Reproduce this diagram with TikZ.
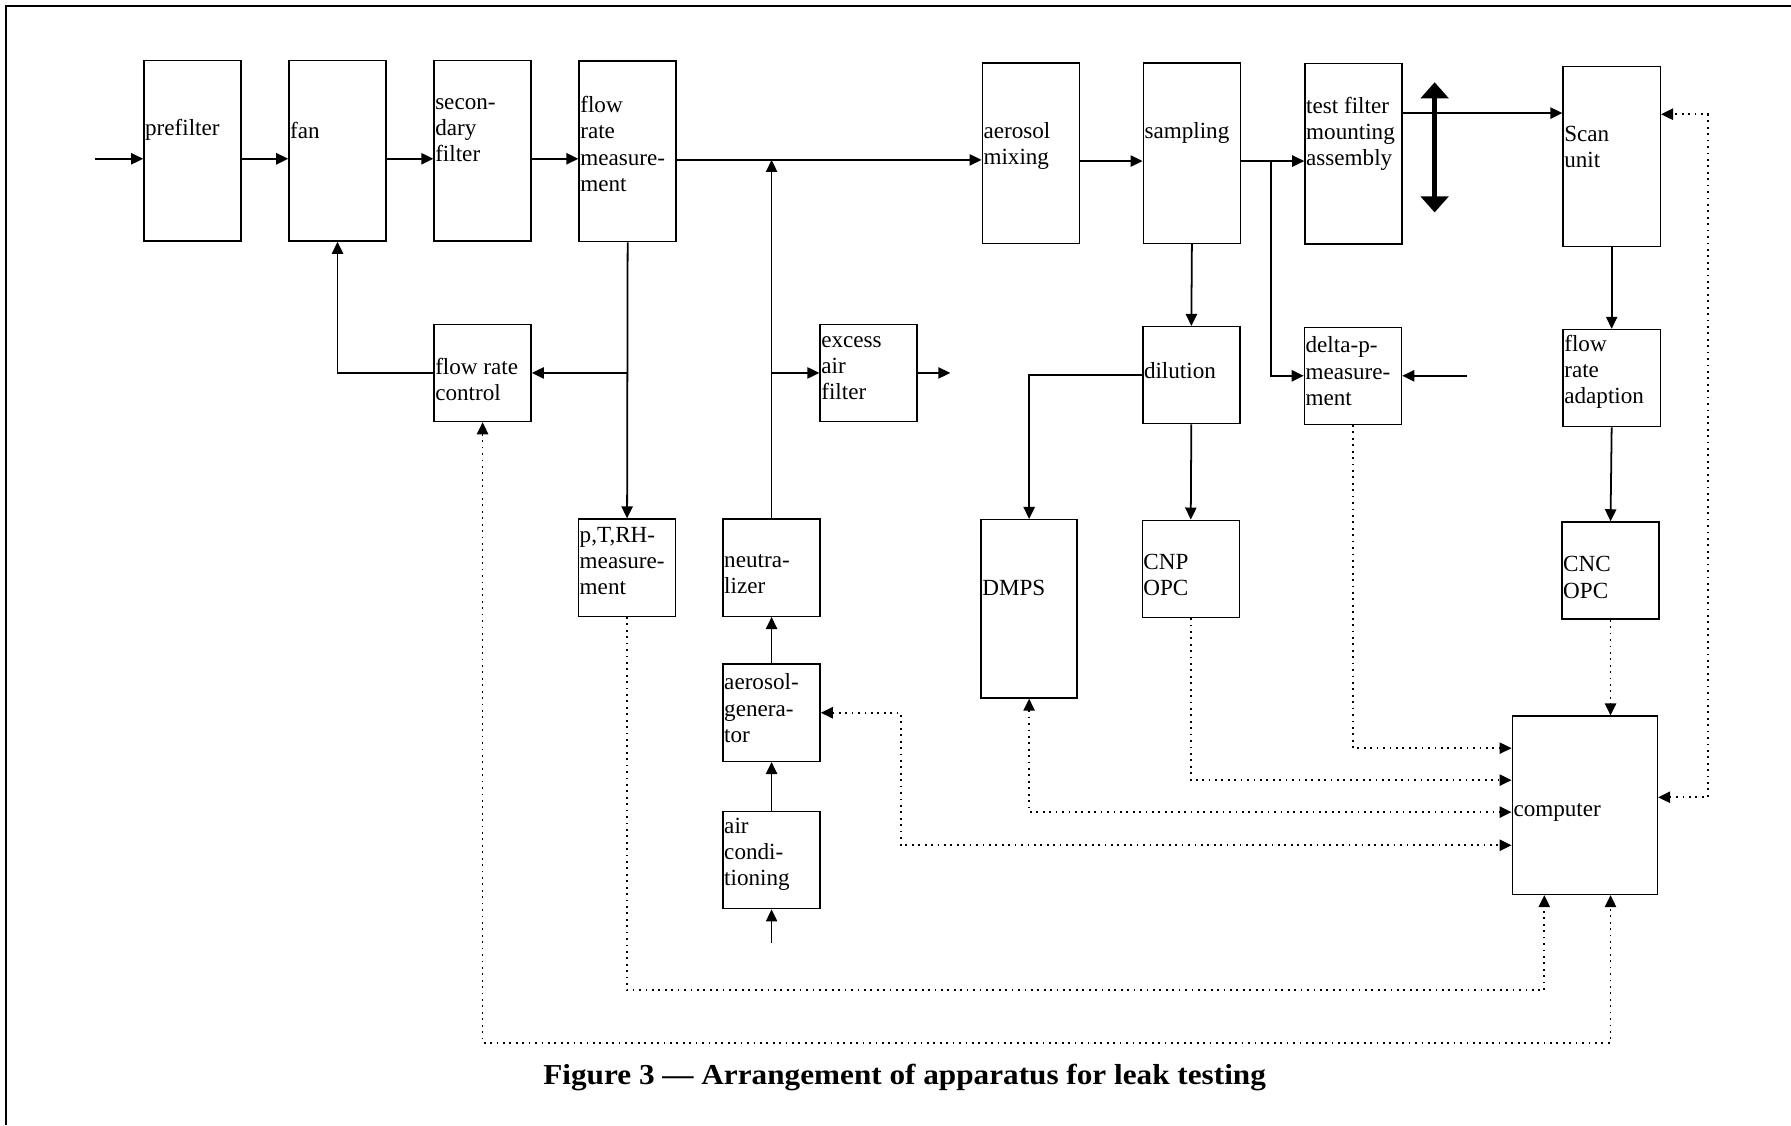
\documentclass[tikz,border=0pt]{standalone}
\usepackage{fontspec}
\setmainfont{Liberation Serif}
\usetikzlibrary{arrows.meta}

\begin{document}
\begin{tikzpicture}[x=0.25mm, y=-0.25mm,
  >={Triangle[length=7.5pt,width=7pt]},
  box/.style={draw, line width=0.9pt, minimum width=21.25mm, minimum height=21.25mm, inner sep=0pt},
  tall/.style={box, minimum height=39.5mm},
  lbl/.style={anchor=west, inner xsep=1pt, inner ysep=0pt, align=left, font=\fontsize{14.4}{16.3}\selectfont},
  pipe/.style={line width=1.1pt, ->},
  sig/.style={line width=1.1pt, dash pattern=on 1.1pt off 2.9pt},
  move/.style={line width=2.8pt, {Triangle[length=10pt,width=17pt]}-{Triangle[length=10pt,width=17pt]}},
]
\useasboundingbox (0,0) rectangle (1568,985);
% Frame
\draw[line width=1.2pt] (5,985) -- (5,5) -- (1568,5);
% Main duct
\node[tall, label={[lbl, yshift=4.5mm]west:prefilter}] (pre) at (168.5,132) {};
\node[tall, label={[lbl, yshift=4.5mm]west:fan}] (fan) at (295.5,132) {};
\node[tall, label={[lbl, yshift=4.5mm]west:{secon-\\dary\\filter}}] (sec) at (422.5,132) {};
\node[tall, label={[lbl, yshift=1.6mm]west:{flow\\rate\\measure-\\ment}}] (frm) at (549.5,132.5) {};
\node[tall, label={[lbl, yshift=1.6mm]west:{aerosol\\mixing}}] (mix) at (902.5,134) {};
\node[tall, label={[lbl, yshift=4.5mm]west:sampling}] (samp) at (1043.5,134) {};
\node[tall, label={[lbl, yshift=4.4mm]west:{test filter\\mounting\\assembly}}] (tfa) at (1185,134.5) {};
\node[tall, label={[lbl, yshift=2.1mm]west:{Scan\\unit}}] (scan) at (1411,137) {};
% Second row
\node[box, label={[lbl, yshift=-1.5mm]west:{flow rate\\control}}] (frc) at (422.5,326.5) {};
\node[box, label={[lbl, yshift=1.1mm]west:{excess\\air\\filter}}] (exf) at (760.5,326.5) {};
\node[box, label={[lbl, yshift=1.1mm]west:dilution}] (dil) at (1043,328.5) {};
\node[box, label={[lbl, yshift=1mm]west:{delta-p-\\measure-\\ment}}] (dp) at (1184.5,329) {};
\node[box, label={[lbl, yshift=1.4mm]west:{flow\\rate\\adaption}}] (fra) at (1411,331) {};
% Third row
\node[box, label={[lbl, yshift=1.5mm]west:{p,T,RH-\\measure-\\ment}}] (ptrh) at (549,497) {};
\node[box, label={[lbl, yshift=-1.4mm]west:{neutra-\\lizer}}] (neu) at (675.5,497) {};
\node[box, minimum width=21mm, minimum height=39mm, label={[lbl, yshift=4.5mm]west:DMPS}] (dmps) at (901,533) {};
\node[box, label={[lbl, yshift=-1.4mm]west:{CNP\\OPC}}] (cnp) at (1042.5,498) {};
\node[box, label={[lbl, yshift=-1.5mm]west:{CNC\\OPC}}] (cnc) at (1410,499.5) {};
% Aerosol supply and computer
\node[box, label={[lbl, yshift=1mm]west:{aerosol-\\genera-\\tor}}] (gen) at (675.5,624) {};
\node[box, label={[lbl, yshift=1.25mm]west:{air\\condi-\\tioning}}] (aircon) at (675.5,753) {};
\node[box, minimum width=31.75mm, minimum height=39mm, label={[lbl, yshift=-1.5mm]west:computer}] (comp) at (1387.5,705) {};
% Free ends
\coordinate (in) at (83,139);
\coordinate (exout) at (832,326.5);
\coordinate (tap) at (1113,141);
\coordinate (dpin) at (1284,329);
\coordinate (airin) at (675.5,826);
% Air flow
\draw[pipe] (in) -- (pre.west |- in);
\draw[pipe] (pre.east |- in) -- (fan.west |- in);
\draw[pipe] (fan.east |- in) -- (sec.west |- in);
\draw[pipe] (sec.east |- in) -- (frm.west |- in);
\draw[pipe] (frm.east |- 0,140) -- (mix.west |- 0,140);
\draw[pipe] (mix.east |- 0,141) -- (samp.west |- 0,141);
\draw[pipe] (samp.east |- tap) -- (tfa.west |- tap);
\draw[pipe] (tap) |- (dp.west);
\draw[pipe] (tfa.east |- 0,99) -- (scan.west |- 0,99);
\draw[move] (1256,72) -- (1256,186);
\draw[pipe] (dpin) -- (dp.east);
\draw[pipe] (frm.south) -- (ptrh.north);
\draw[pipe] (frm.south |- frc.east) -- (frc.east);
\draw[pipe] (frc.west) -| (fan.south);
\draw[pipe] (samp.south) -- (dil.north);
\draw[pipe] (dil.west) -| (dmps.north);
\draw[pipe] (dil.south) -- (cnp.north);
\draw[pipe] (scan.south) -- (fra.north);
\draw[pipe] (fra.south) -- (cnc.north);
% Aerosol
\draw[pipe] (airin) -- (aircon.south);
\draw[pipe] (aircon.north) -- (gen.south);
\draw[pipe] (gen.north) -- (neu.south);
\draw[pipe] (neu.north) -- (neu.north |- 0,140);
\draw[pipe] (neu.north |- exf.west) -- (exf.west);
\draw[pipe] (exf.east) -- (exout);
% Signals
\draw[sig, ->] (cnc.south) -- (cnc.south |- comp.north);
\draw[sig, ->] (dp.south) |- (comp.west |- 0,655);
\draw[sig, ->] (cnp.south) |- (comp.west |- 0,683);
\draw[sig, <->] (dmps.south) |- (comp.west |- 0,711);
\draw[sig, <->] (gen.east) -- ++(70,0) |- (comp.west |- 0,740);
\draw[sig, ->] (ptrh.south) |- (1352,867) -- (1352,0 |- comp.south);
\draw[sig, <->] (frc.south) |- (1410,913) -- (1410,0 |- comp.south);
\draw[sig, <->] (comp.east |- 0,698) -| (1495,100) -- (scan.east |- 0,100);
% Caption
\node[font=\fontsize{18}{21}\selectfont\bfseries] (cap) at (792,943) {\scalebox{1.08}[1]{Figure 3 — Arrangement of apparatus for leak testing}};
\end{tikzpicture}
\end{document}
